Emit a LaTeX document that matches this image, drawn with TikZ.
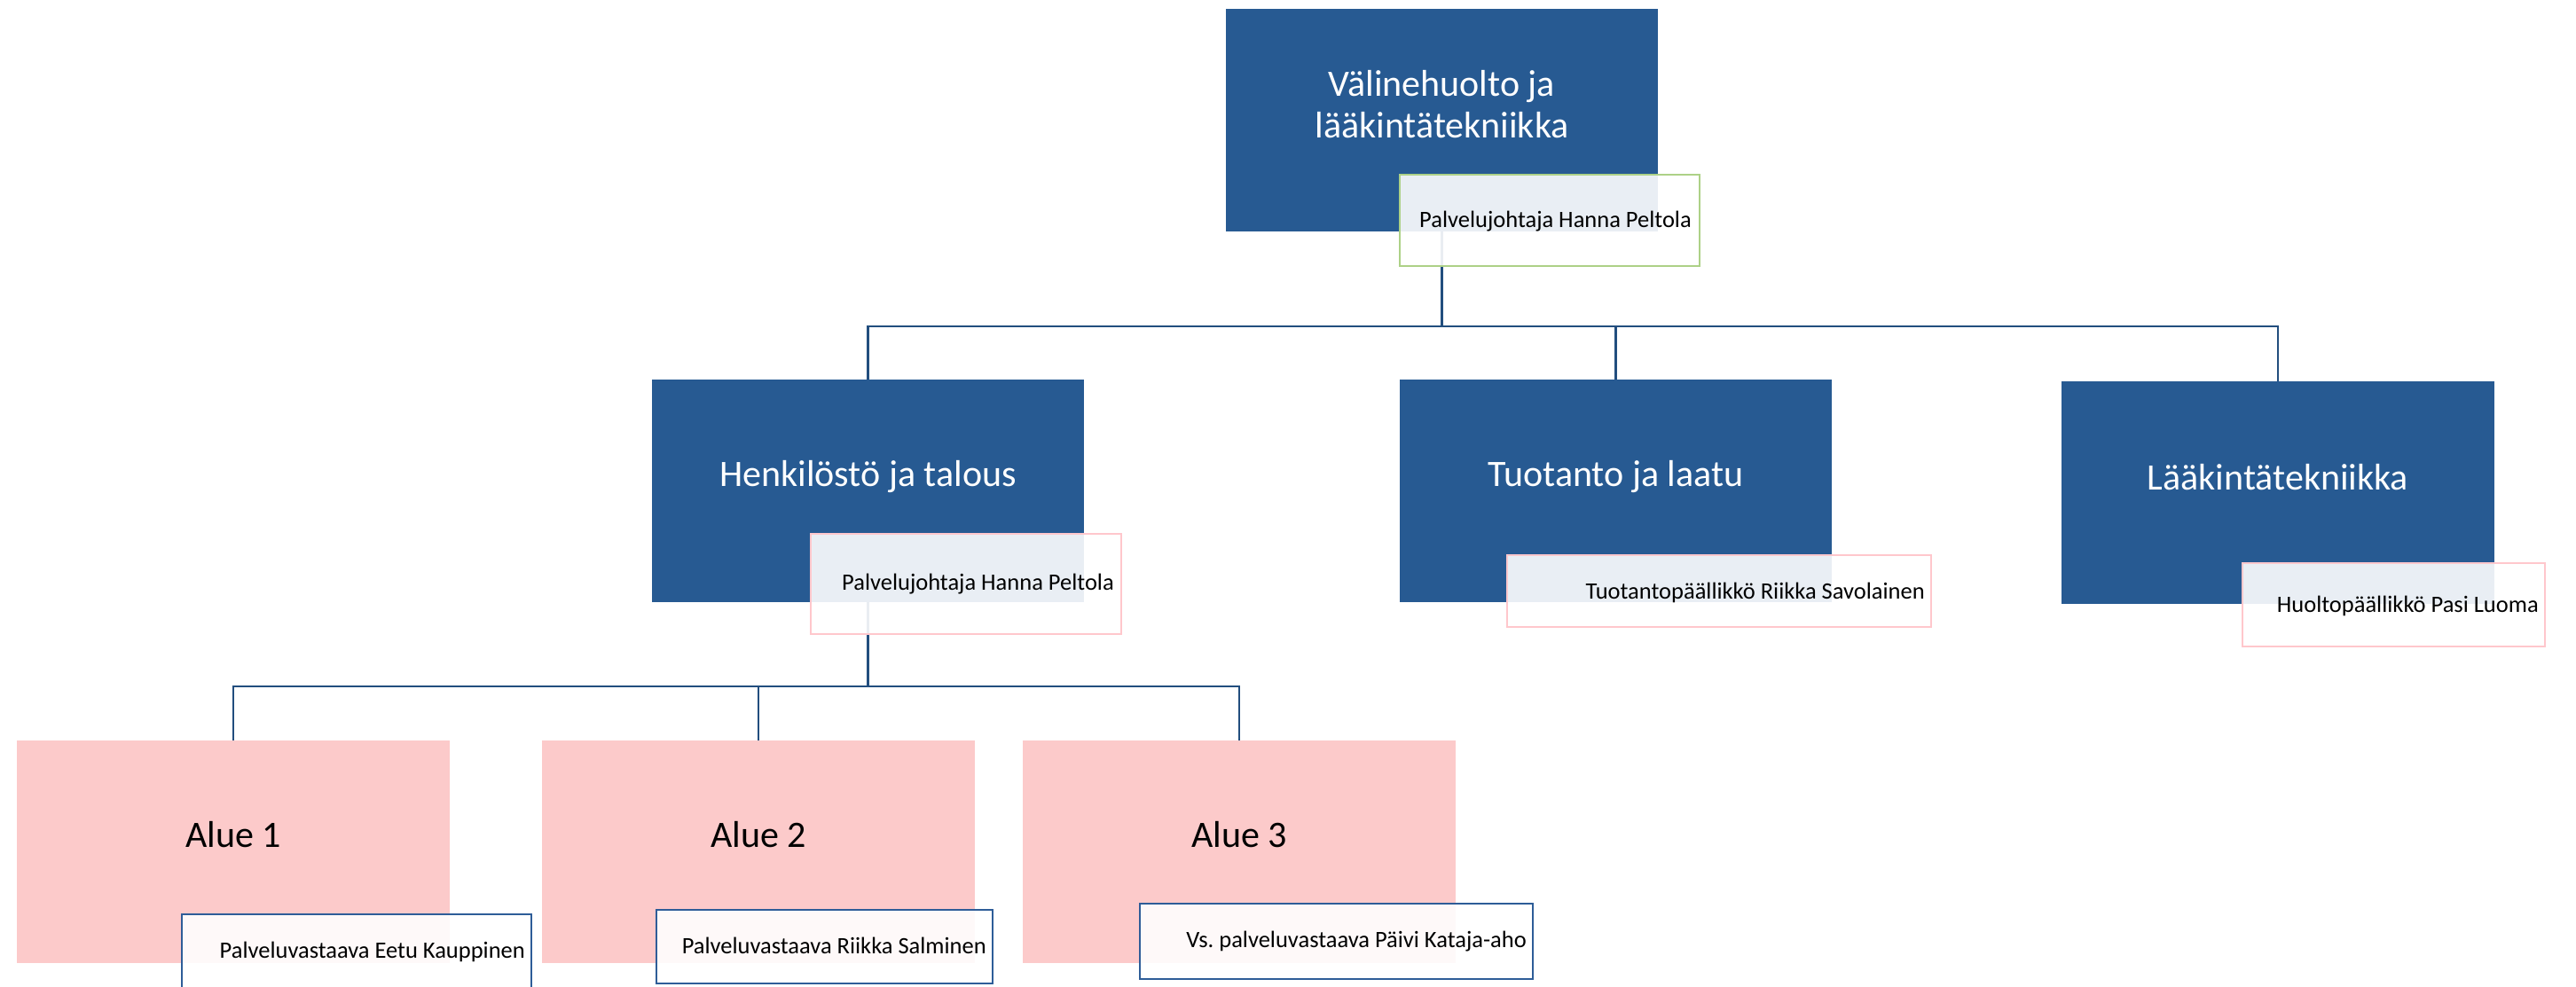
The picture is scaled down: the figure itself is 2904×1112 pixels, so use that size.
\documentclass[tikz,border=0pt]{standalone}
\usepackage{fontspec}
\setmainfont{Carlito}
\frenchspacing
\definecolor{boxblue}{RGB}{39,90,146}
\definecolor{linkblue}{RGB}{34,78,126}
\definecolor{pinkfill}{RGB}{252,202,202}
\definecolor{pinkedge}{RGB}{255,199,204}
\definecolor{greenedge}{RGB}{173,209,135}
\definecolor{subblue}{RGB}{46,93,152}
\tikzset{
  unitbox/.style={rectangle, inner sep=0pt, outer sep=0pt},
  mainbox/.style={unitbox, fill=boxblue},
  areabox/.style={unitbox, fill=pinkfill},
  subbox/.style={unitbox, draw=#1, line width=2.8pt, fill=white, fill opacity=0.9},
  conn/.style={draw=linkblue, line width=2.8pt},
  maintext/.style={inner sep=0pt, anchor=base, text=white, font=\fontsize{42}{47}\selectfont},
  areatext/.style={inner sep=0pt, anchor=base, text=black, font=\fontsize{42}{47}\selectfont},
  subtext/.style={inner sep=0pt, anchor=base east, text=black, font=\fontsize{26.5}{30}\selectfont},
}
\begin{document}
\begin{tikzpicture}[x=1pt, y=-1pt]
\useasboundingbox (0,0) rectangle (2904,1112);
\clip (0,0) rectangle (2904,1112);

% main boxes
\node[mainbox, minimum width=487pt, minimum height=251pt] (top) at (1625.5,135.5) {};
\node[mainbox, minimum width=487pt, minimum height=251pt] (hen) at (978.5,553.5) {};
\node[mainbox, minimum width=487pt, minimum height=251pt] (tuo) at (1821.5,553.5) {};
\node[mainbox, minimum width=488pt, minimum height=251pt] (lak) at (2568,555.5) {};
\node[areabox, minimum width=488pt, minimum height=251pt] (a1) at (263,960.5) {};
\node[areabox, minimum width=488pt, minimum height=251pt] (a2) at (855,960.5) {};
\node[areabox, minimum width=488pt, minimum height=251pt] (a3) at (1397,960.5) {};

% main texts
\node[maintext] (top-t1) at (1625.5,108) {Välinehuolto ja};
\node[maintext] (top-t2) at (1625.5,155) {lääkintätekniikka};
\node[maintext] (hen-t) at (978.5,548) {Henkilöstö ja talous};
\node[maintext] (tuo-t) at (1821.5,548) {Tuotanto ja laatu};
\node[maintext] (lak-t) at (2568,552) {Lääkintätekniikka};
\node[areatext] (a1-t) at (263,955) {Alue 1};
\node[areatext] (a2-t) at (855,955) {Alue 2};
\node[areatext] (a3-t) at (1397,955) {Alue 3};

% connectors
\coordinate (j1) at (1626,368);
\coordinate (j2) at (978,774);
\draw[conn] (top.south) -- (top.south |- j1);
\draw[conn] (hen.north) -- (hen.north |- j1) -- (lak.north |- j1) -- (lak.north);
\draw[conn] (tuo.north) -- (tuo.north |- j1);
\draw[conn] (hen.south) -- (hen.south |- j2);
\draw[conn] (a1.north) -- (a1.north |- j2) -- (a3.north |- j2) -- (a3.north);
\draw[conn] (a2.north) -- (a2.north |- j2);

% sub boxes
\node[subbox=greenedge, minimum width=338pt, minimum height=103pt] (top-s) at (1747,248.5) {};
\node[subbox=pinkedge, minimum width=350pt, minimum height=113pt] (hen-s) at (1089,658.5) {};
\node[subbox=pinkedge, minimum width=478pt, minimum height=81pt] (tuo-s) at (1938,666.5) {};
\node[subbox=pinkedge, minimum width=341pt, minimum height=94pt] (lak-s) at (2698.5,682) {};
\node[subbox=subblue, minimum width=394pt, minimum height=109pt] (a1-s) at (402,1085.5) {};
\node[subbox=subblue, minimum width=379pt, minimum height=83pt] (a2-s) at (929.5,1067.5) {};
\node[subbox=subblue, minimum width=443pt, minimum height=85pt] (a3-s) at (1506.5,1061.5) {};

% sub texts
\node[subtext] (top-st) at (1907,256) {Palvelujohtaja Hanna Peltola};
\node[subtext] (hen-st) at (1256,665) {Palvelujohtaja Hanna Peltola};
\node[subtext] (tuo-st) at (2170,675) {Tuotantopäällikkö Riikka Savolainen};
\node[subtext] (lak-st) at (2862,690) {Huoltopäällikkö Pasi Luoma};
\node[subtext] (a1-st) at (592,1080) {Palveluvastaava Eetu Kauppinen};
\node[subtext] (a2-st) at (1112,1075) {Palveluvastaava Riikka Salminen};
\node[subtext] (a3-st) at (1721,1068) {Vs. palveluvastaava Päivi Kataja-aho};
\end{tikzpicture}
\end{document}
